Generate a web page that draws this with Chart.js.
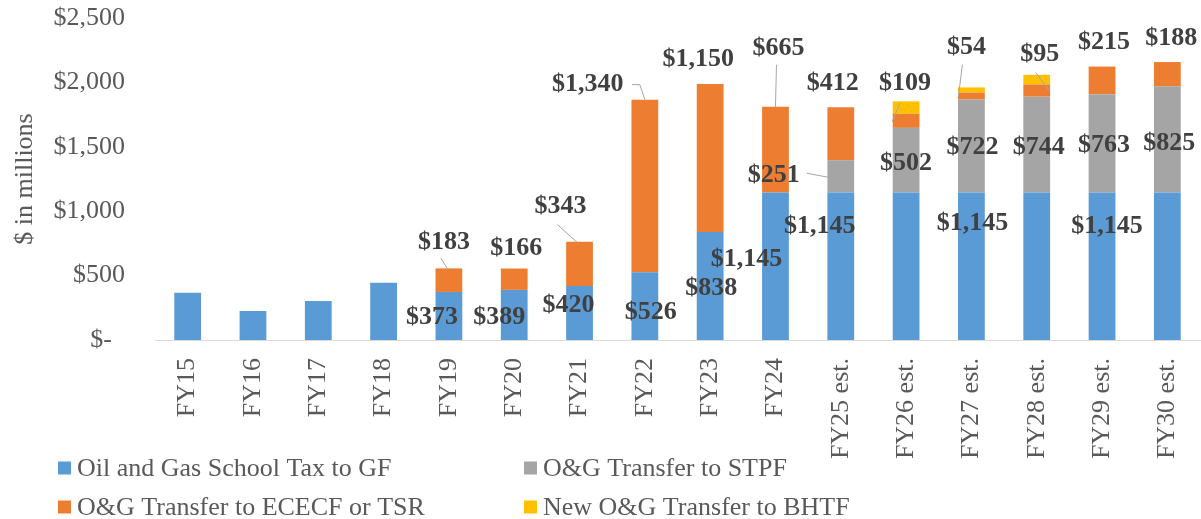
<!DOCTYPE html>
<html><head><meta charset="utf-8">
<script src="https://cdn.jsdelivr.net/npm/chart.js@4/dist/chart.umd.min.js"></script>
<style>html,body{margin:0;padding:0;background:#fff;}#wrap{width:1201px;height:519px;position:relative;}</style>
</head><body><div id="wrap"><canvas id="c" width="1201" height="519"></canvas></div>
<script>
const categories = ['FY15','FY16','FY17','FY18','FY19','FY20','FY21','FY22','FY23','FY24','FY25 est.','FY26 est.','FY27 est.','FY28 est.','FY29 est.','FY30 est.'];
const gfTax = [367,225,303,445,373,389,420,526,838,1145,1145,1145,1145,1145,1145,1145];
const stpf  = [null,null,null,null,null,null,null,null,null,null,251,502,722,744,763,825];
const ececf = [null,null,null,null,183,166,343,1340,1150,665,412,109,54,95,215,188];
const bhtf  = [null,null,null,null,null,null,null,null,null,null,null,97,40,75,null,null];
const seriesNames = ['Oil and Gas School Tax to GF','O&G Transfer to STPF','O&G Transfer to ECECF or TSR','New O&G Transfer to BHTF'];
const seriesColors = ['#5B9BD5','#A5A5A5','#ED7D31','#FFC000'];
const yTicks = [0,500,1000,1500,2000,2500];
const yTitle = '$ in millions';

const FONT = '"Liberation Serif","Times New Roman",serif';
const money = v => '$' + Number(v).toLocaleString('en-US');

// data label placement (offsets from bar centre / segment top)
const labelSpecs = [
 {ds:2,i:4,dx:-5,dy:-26,lead:[[-8,-10],[-1,1]]},
 {ds:0,i:4,dx:-17,dy:25},
 {ds:2,i:5,dx:2,dy:-20},
 {ds:0,i:5,dx:-15,dy:27},
 {ds:2,i:6,dx:-19,dy:-35,lead:[[-22,-17],[-2,1]]},
 {ds:0,i:6,dx:-11,dy:19},
 {ds:2,i:7,dx:-57,dy:-15,lead:[[-13,-15],[-5,-15],[0,0]]},
 {ds:0,i:7,dx:6,dy:40},
 {ds:2,i:8,dx:-12,dy:-25},
 {ds:0,i:8,dx:1,dy:56},
 {ds:2,i:9,dx:3,dy:-59,lead:[[1,-42],[0,0]]},
 {ds:0,i:9,dx:-29,dy:67},
 {ds:2,i:10,dx:-8,dy:-24},
 {ds:1,i:10,dx:-67,dy:15,lead:[[-34,13],[-13,17]]},
 {ds:0,i:10,dx:-21,dy:34},
 {ds:2,i:11,dx:-1,dy:-31,lead:[[-6,-11],[-14,8]]},
 {ds:1,i:11,dx:0,dy:35},
 {ds:2,i:12,dx:-5,dy:-45,lead:[[-9,-28],[-13,4]]},
 {ds:1,i:12,dx:1,dy:48},
 {ds:0,i:12,dx:1,dy:31},
 {ds:2,i:13,dx:3,dy:-30,lead:[[-1,-12],[13,7]]},
 {ds:1,i:13,dx:2,dy:51},
 {ds:2,i:14,dx:2,dy:-24},
 {ds:1,i:14,dx:2,dy:51},
 {ds:0,i:14,dx:5,dy:34},
 {ds:2,i:15,dx:4,dy:-24},
 {ds:1,i:15,dx:2,dy:57}
];

const labelPlugin = {
  id: 'excelLabels',
  afterDatasetsDraw(chart) {
    const ctx = chart.ctx;
    ctx.save();
    labelSpecs.forEach(s => {
      const el = chart.getDatasetMeta(s.ds).data[s.i];
      const v = chart.data.datasets[s.ds].data[s.i];
      if (!el || v == null) return;
      const bx = el.x, by = el.y;
      if (s.lead) {
        ctx.strokeStyle = '#A6A6A6';
        ctx.lineWidth = 1;
        ctx.beginPath();
        s.lead.forEach((p, k) => {
          if (k === 0) ctx.moveTo(bx + p[0], by + p[1]); else ctx.lineTo(bx + p[0], by + p[1]);
        });
        ctx.stroke();
      }
      ctx.font = 'bold 26px ' + FONT;
      ctx.fillStyle = '#404040';
      ctx.textAlign = 'center';
      ctx.textBaseline = 'middle';
      ctx.fillText(money(v), bx + s.dx, by + s.dy);
    });
    ctx.restore();
  }
};

const legendPlugin = {
  id: 'gridLegend',
  afterDraw(chart) {
    const ctx = chart.ctx;
    const cols = [58, 524], rows = [468, 507];
    ctx.save();
    ctx.font = '26px ' + FONT;
    ctx.textBaseline = 'middle';
    ctx.textAlign = 'left';
    chart.data.datasets.forEach((d, k) => {
      const x = cols[k % 2], y = rows[Math.floor(k / 2)];
      ctx.fillStyle = d.backgroundColor;
      ctx.fillRect(x, y - 6.5, 13, 13);
      ctx.fillStyle = '#595959';
      ctx.fillText(d.label, x + 19, y + 1);
    });
    ctx.restore();
  }
};

const datasets = [gfTax, stpf, ececf, bhtf].map((arr, k) => ({
  label: seriesNames[k],
  data: arr,
  backgroundColor: seriesColors[k],
  borderWidth: 0,
  barPercentage: 0.41,
  categoryPercentage: 1.0
}));

new Chart(document.getElementById('c'), {
  type: 'bar',
  data: { labels: categories, datasets },
  options: {
    responsive: false,
    animation: false,
    layout: { padding: { top: 18, right: 1, left: 0, bottom: 0 } },
    plugins: { legend: { display: false }, tooltip: { enabled: false } },
    scales: {
      x: {
        stacked: true,
        grid: { display: false, drawTicks: false },
        border: { display: true, color: '#D9D9D9', width: 1 },
        ticks: { color: '#595959', font: { family: FONT, size: 26 }, minRotation: 90, maxRotation: 90, autoSkip: false, padding: 18 },
        afterFit(scale) { scale.height = 179; scale.paddingLeft = 0; scale.paddingRight = 0; }
      },
      y: {
        stacked: true,
        min: 0, max: 2500,
        grid: { display: false, drawTicks: false },
        border: { display: false },
        afterBuildTicks(scale) { scale.ticks = yTicks.map(v => ({ value: v })); },
        ticks: {
          color: '#595959', font: { family: FONT, size: 26 }, padding: 30,
          callback: v => v === 0 ? '$-  ' : money(v)
        },
        title: { display: true, text: yTitle, color: '#595959', font: { family: FONT, size: 26 }, padding: { top: 10, bottom: 0 } },
        afterFit(scale) { scale.width = 155; scale.paddingTop = 0; scale.paddingBottom = 0; }
      }
    }
  },
  plugins: [labelPlugin, legendPlugin]
});
</script></body></html>
